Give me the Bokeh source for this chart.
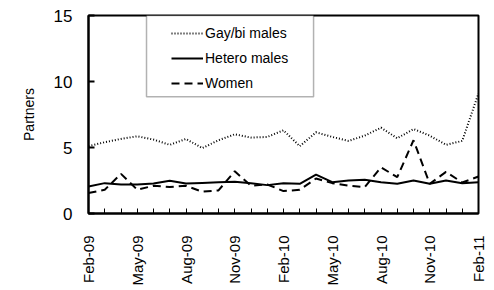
import math
from bokeh.plotting import figure
from bokeh.models import Range1d, FixedTicker, Legend, LegendItem, BoxAnnotation
from bokeh.embed import file_html
from bokeh.resources import INLINE

months = ["Feb-09", "Mar-09", "Apr-09", "May-09", "Jun-09", "Jul-09", "Aug-09",
          "Sep-09", "Oct-09", "Nov-09", "Dec-09", "Jan-10", "Feb-10", "Mar-10",
          "Apr-10", "May-10", "Jun-10", "Jul-10", "Aug-10", "Sep-10", "Oct-10",
          "Nov-10", "Dec-10", "Jan-11", "Feb-11"]
gay_bi = [5.1, 5.4, 5.65, 5.85, 5.6, 5.2, 5.65, 4.95, 5.55, 6.0, 5.75, 5.8,
          6.3, 5.1, 6.15, 5.8, 5.5, 5.9, 6.5, 5.7, 6.4, 5.9, 5.2, 5.5, 9.1]
hetero = [2.05, 2.3, 2.2, 2.2, 2.27, 2.48, 2.27, 2.32, 2.37, 2.4, 2.3, 2.15,
          2.3, 2.25, 2.95, 2.37, 2.5, 2.55, 2.37, 2.25, 2.5, 2.25, 2.5, 2.3, 2.37]
women = [1.55, 1.8, 3.0, 1.8, 2.1, 2.0, 2.1, 1.65, 1.75, 3.2, 2.1, 2.2,
         1.7, 1.8, 2.65, 2.3, 2.1, 2.0, 3.5, 2.75, 5.55, 2.25, 3.15, 2.35, 2.8]
y_ticks = [0, 5, 10, 15]
label_every = 3

x = list(range(len(months)))

p = figure(frame_width=390, frame_height=198,
           x_range=Range1d(0, len(months) - 1), y_range=Range1d(0, 15),
           output_backend="svg", toolbar_location=None,
           min_border_left=88, min_border_right=8, min_border_top=15, min_border_bottom=74)
p.background_fill_color = "white"
p.border_fill_color = "white"
p.outline_line_color = "black"
p.outline_line_width = 2
p.xgrid.visible = False
p.ygrid.visible = False

FONT = "Liberation Sans"

p.xaxis.ticker = FixedTicker(ticks=x)
p.xaxis.major_label_overrides = {i: (m if i % label_every == 0 else "") for i, m in enumerate(months)}
p.xaxis.major_label_orientation = math.pi / 2
p.xaxis.major_label_standoff = 22
p.xaxis.major_tick_in = 5
p.xaxis.major_tick_out = 0
p.xaxis.minor_tick_line_color = None
p.xaxis.axis_line_width = 2
p.xaxis.major_tick_line_width = 1
p.xaxis.major_label_text_font = FONT
p.xaxis.major_label_text_font_size = "15px"
p.xaxis.major_label_text_color = "black"

p.yaxis.ticker = FixedTicker(ticks=y_ticks)
p.yaxis.major_tick_in = 6
p.yaxis.major_tick_out = 0
p.yaxis.minor_tick_line_color = None
p.yaxis.axis_line_width = 2
p.yaxis.major_tick_line_width = 2
p.yaxis.major_label_standoff = 16
p.yaxis.major_label_text_font = FONT
p.yaxis.major_label_text_font_size = "17px"
p.yaxis.major_label_text_color = "black"
p.yaxis.axis_label = "Partners"
p.yaxis.axis_label_text_font = FONT
p.yaxis.axis_label_text_font_size = "14px"
p.yaxis.axis_label_text_font_style = "normal"
p.yaxis.axis_label_text_color = "black"
p.yaxis.axis_label_standoff = 14

r1 = p.line(x, gay_bi, line_color="black", line_width=2, line_dash="1 2")
r2 = p.line(x, hetero, line_color="black", line_width=2)
r3 = p.line(x, women, line_color="black", line_width=2, line_dash="8 5")

p.add_layout(BoxAnnotation(left=3.57, right=13.85, bottom=8.85, top=15,
                           fill_color="white", fill_alpha=1.0,
                           line_color="black", line_width=1.5, level="overlay"))

legend = Legend(items=[LegendItem(label="Gay/bi males", renderers=[r1]),
                       LegendItem(label="Hetero males", renderers=[r2]),
                       LegendItem(label="Women", renderers=[r3])],
                location=(83, 120), padding=0, margin=0, spacing=5,
                glyph_width=32, glyph_height=20, label_height=20, label_standoff=2,
                border_line_alpha=0, background_fill_alpha=0,
                label_text_font=FONT, label_text_font_size="14px", label_text_color="black")
p.add_layout(legend, "center")

open("out.html", "w").write(file_html(p, INLINE))
